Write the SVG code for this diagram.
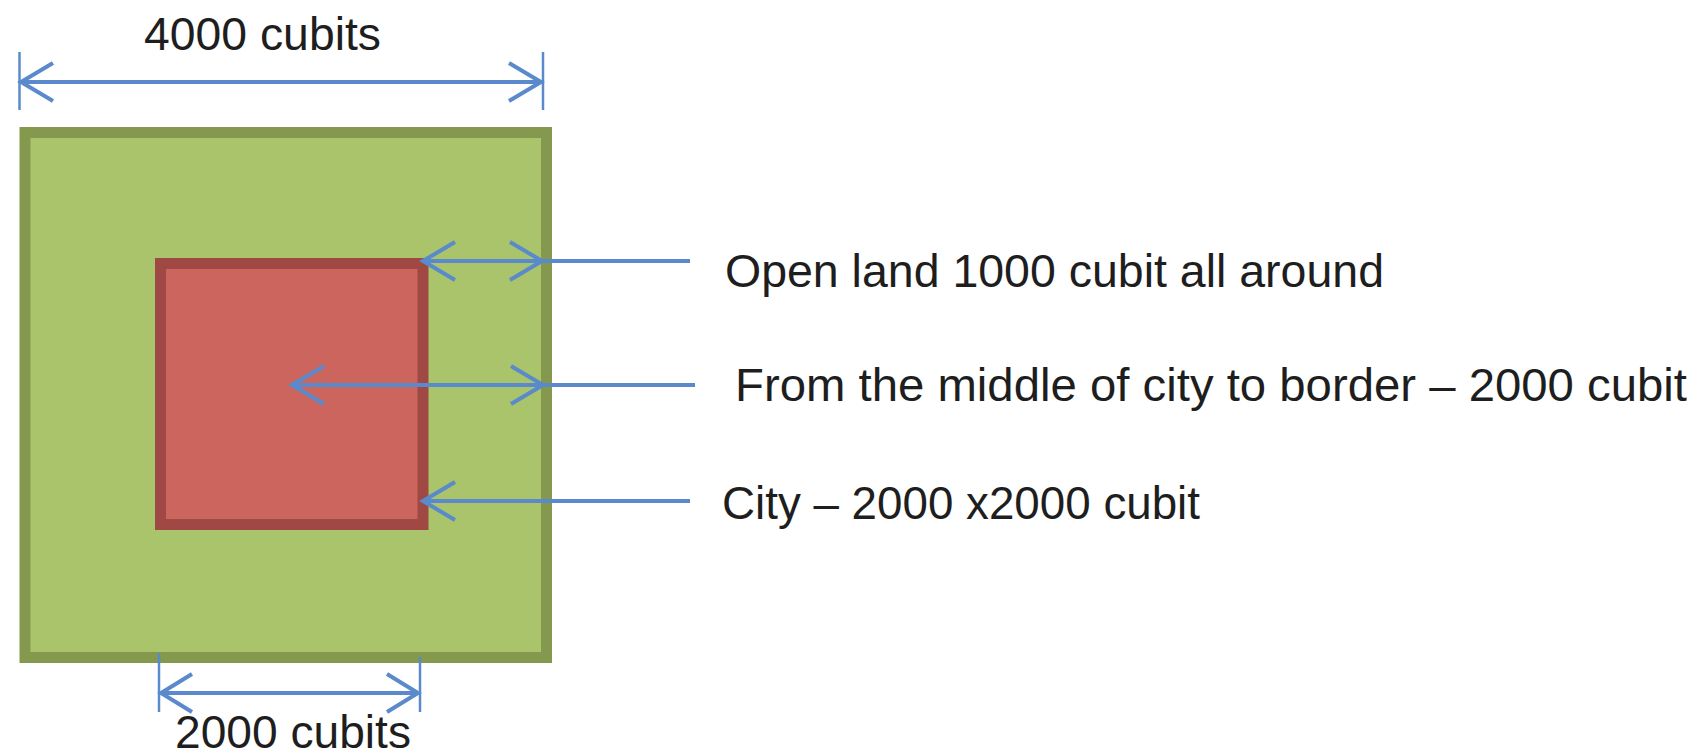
<svg xmlns="http://www.w3.org/2000/svg" width="1696" height="756" viewBox="0 0 1696 756">
  <style>
    .lbl { font-family: "Liberation Sans", Arial, sans-serif; font-size: 46px; fill: #1e1e1e; }
    .ln { stroke: #5A8ACB; stroke-width: 4; fill: none; }
    .tick { stroke: #5A8ACB; stroke-width: 2.5; fill: none; }
    .chev { stroke: #5A8ACB; stroke-width: 4; fill: none; stroke-linejoin: miter; }
  </style>
  <rect width="1696" height="756" fill="#ffffff"/>

  <g id="open-land">
    <rect x="25" y="132.5" width="521.5" height="525" fill="#A9C46A" stroke="#84994E" stroke-width="11"/>
  </g>
  <g id="city">
    <rect x="160.5" y="263.5" width="262.5" height="261" fill="#CC655D" stroke="#A04843" stroke-width="11"/>
  </g>

  <g id="connectors">
    <!-- top dimension -->
    <line class="tick" x1="19.5" y1="52" x2="19.5" y2="110"/>
    <line class="tick" x1="543" y1="52" x2="543" y2="110"/>
    <line class="ln" x1="21" y1="82" x2="541" y2="82"/>
    <path class="chev" d="M53,63 L21,82 L53,101"/>
    <path class="chev" d="M509,63 L541,82 L509,101"/>

    <!-- bottom dimension -->
    <line class="tick" x1="159" y1="653" x2="159" y2="712"/>
    <line class="tick" x1="420" y1="657" x2="420" y2="712"/>
    <line class="ln" x1="161" y1="693" x2="418" y2="693"/>
    <path class="chev" d="M192,674 L161,693 L192,712"/>
    <path class="chev" d="M387,674 L418,693 L387,712"/>

    <!-- open land arrow -->
    <line class="ln" x1="423" y1="261" x2="690" y2="261"/>
    <path class="chev" d="M455,242 L423,261 L455,280"/>
    <path class="chev" d="M510,242 L542,261 L510,280"/>

    <!-- middle arrow -->
    <line class="ln" x1="292" y1="385" x2="695" y2="385"/>
    <path class="chev" d="M324,366 L292,385 L324,404"/>
    <path class="chev" d="M511,366 L543,385 L511,404"/>

    <!-- city arrow -->
    <line class="ln" x1="423" y1="501" x2="690" y2="501"/>
    <path class="chev" d="M455,482 L423,501 L455,520"/>
  </g>

  <g id="labels">
    <text class="lbl" x="144" y="50" textLength="237" lengthAdjust="spacingAndGlyphs">4000 cubits</text>
    <text class="lbl" x="175" y="748" textLength="236" lengthAdjust="spacingAndGlyphs">2000 cubits</text>
    <text class="lbl" x="725" y="287" textLength="659" lengthAdjust="spacingAndGlyphs">Open land 1000 cubit all around</text>
    <text class="lbl" x="735" y="401" textLength="952" lengthAdjust="spacingAndGlyphs">From the middle of city to border – 2000 cubit</text>
    <text class="lbl" x="722" y="519" textLength="478" lengthAdjust="spacingAndGlyphs">City – 2000 x2000 cubit</text>
  </g>
</svg>
